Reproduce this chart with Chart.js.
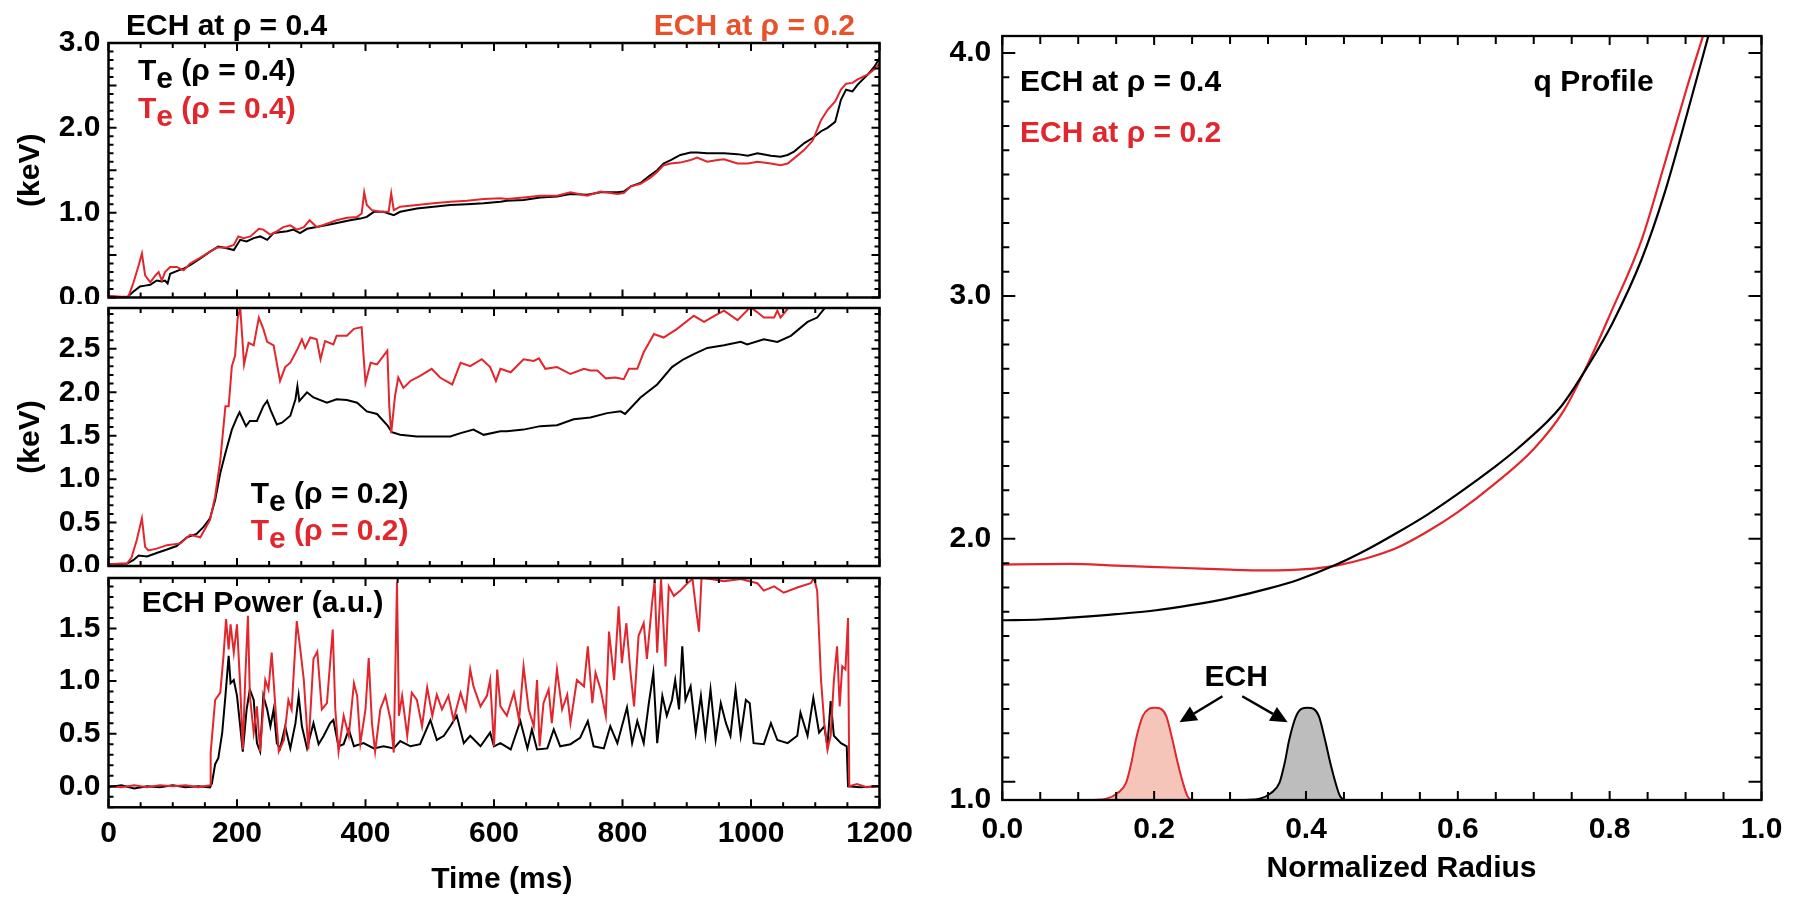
<!DOCTYPE html>
<html>
<head>
<meta charset="utf-8">
<title>ECH Te and q profile</title>
<script src="https://cdn.jsdelivr.net/npm/chart.js@4.4.1/dist/chart.umd.min.js"></script>
<style>
  body { margin: 0; background: #fff; }
  #wrap { position: relative; width: 1795px; height: 897px; overflow: hidden; }
  #wrap canvas { position: absolute; }
</style>
</head>
<body>
<div id="wrap">
  <canvas id="te04" width="930" height="304" style="left:0;top:0"></canvas>
  <canvas id="te02" width="930" height="268" style="left:0;top:304px"></canvas>
  <canvas id="pwr" width="930" height="325" style="left:0;top:572px"></canvas>
  <canvas id="qprof" width="895" height="897" style="left:900px;top:0"></canvas>
</div>
<script>
// ---- data ----
// panel 1: Te at rho = 0.4 (black: ECH at 0.4, red: ECH at 0.2)
var time04Black = [0,20,30,39,49,57,65,75,83,88,92,96,109,117,127,143,158,171,184,195,205,215,226,236,247,257,278,288,298,309,324,350,376,392,402,413,428,444,454,480,506,532,558,584,610,620,646,672,698,719,745,766,792,802,813,828,843,854,864,875,890,906,916,932,948,958,979,995,1010,1031,1046,1057,1067,1083,1096,1109,1119,1131,1140,1148,1158,1166,1182,1192,1200];
var te04Black = [0,0,0.01,0.07,0.13,0.14,0.15,0.2,0.19,0.2,0.165,0.28,0.32,0.34,0.38,0.46,0.54,0.6,0.58,0.56,0.68,0.66,0.7,0.72,0.68,0.76,0.78,0.8,0.76,0.81,0.83,0.87,0.91,0.93,0.95,1.01,1.01,0.97,1.01,1.05,1.07,1.09,1.1,1.11,1.13,1.14,1.15,1.18,1.19,1.22,1.21,1.24,1.24,1.25,1.31,1.35,1.44,1.5,1.58,1.62,1.68,1.71,1.71,1.7,1.7,1.7,1.69,1.67,1.7,1.67,1.66,1.68,1.72,1.82,1.88,1.96,2,2.07,2.33,2.45,2.43,2.51,2.63,2.72,2.82];
var time04Red = [0,20,31,39,47,52,57,65,73,78,83,88,96,106,117,127,143,158,169,184,195,202,210,221,234,241,252,262,272,283,293,304,313,324,340,355,371,387,394,398,402,410,423,436,440,444,454,480,506,532,558,584,610,620,646,672,698,719,745,766,792,802,813,828,843,854,864,875,890,906,916,932,948,958,979,995,1010,1031,1046,1057,1067,1083,1096,1109,1119,1131,1140,1148,1158,1166,1182,1192,1200];
var te04Red = [0.02,0.01,0.01,0.18,0.38,0.52,0.26,0.18,0.26,0.3,0.2,0.3,0.36,0.36,0.32,0.4,0.47,0.54,0.59,0.59,0.62,0.72,0.7,0.72,0.81,0.8,0.74,0.78,0.83,0.85,0.8,0.83,0.91,0.83,0.87,0.91,0.94,0.95,0.99,1.24,1.09,1.03,1.01,1.01,1.23,1.03,1.07,1.09,1.11,1.13,1.14,1.16,1.17,1.16,1.18,1.2,1.2,1.24,1.2,1.25,1.22,1.23,1.31,1.34,1.41,1.48,1.56,1.58,1.59,1.62,1.65,1.6,1.62,1.63,1.58,1.58,1.6,1.58,1.56,1.58,1.64,1.74,1.85,2.09,2.21,2.31,2.45,2.52,2.53,2.57,2.63,2.69,2.76];

// panel 2: Te at rho = 0.2
var time02Black = [0,29,39,47,60,75,91,106,122,137,148,158,166,174,182,192,200,204,214,220,231,241,247,252,262,270,283,291,294,297,309,319,340,355,371,387,402,418,434,441,454,480,506,532,548,568,584,610,620,646,672,698,724,750,776,797,804,828,854,877,895,911,932,958,984,994,1020,1041,1062,1088,1103,1116];
var te02Black = [0.02,0.03,0.07,0.12,0.11,0.15,0.19,0.23,0.33,0.37,0.45,0.55,0.76,1.07,1.3,1.57,1.71,1.77,1.61,1.67,1.67,1.84,1.9,1.8,1.63,1.65,1.73,1.92,2.07,1.9,2,1.94,1.88,1.92,1.91,1.88,1.78,1.75,1.62,1.54,1.51,1.49,1.49,1.49,1.53,1.57,1.51,1.55,1.55,1.57,1.61,1.62,1.69,1.71,1.76,1.78,1.75,1.94,2.09,2.29,2.38,2.44,2.51,2.54,2.58,2.55,2.61,2.58,2.65,2.81,2.86,2.98];
var time02Red = [0,29,36,44,52,57,62,75,91,112,127,143,158,166,174,182,187,192,197,201,205,211,218,226,234,241,247,257,267,275,283,293,301,306,314,324,330,337,350,355,371,382,394,397,400,408,418,434,437,440,446,451,459,470,485,503,516,535,548,563,581,594,603,610,626,646,662,670,680,698,719,740,750,761,774,789,802,810,823,833,849,864,885,911,927,943,958,979,999,1010,1020,1036,1041,1046,1057,1060];
var te02Red = [0.02,0.03,0.1,0.3,0.55,0.22,0.18,0.2,0.24,0.26,0.36,0.33,0.53,0.8,1.22,1.84,1.84,2.3,2.42,2.85,2.98,2.32,2.57,2.54,2.86,2.73,2.58,2.54,2.13,2.29,2.34,2.48,2.61,2.51,2.63,2.61,2.38,2.59,2.55,2.65,2.65,2.73,2.75,2.42,2.11,2.34,2.32,2.48,1.84,1.53,1.96,2.17,2.05,2.13,2.19,2.27,2.17,2.09,2.34,2.3,2.38,2.29,2.13,2.27,2.23,2.38,2.36,2.39,2.27,2.29,2.21,2.27,2.25,2.25,2.16,2.17,2.15,2.27,2.27,2.46,2.67,2.63,2.73,2.88,2.81,2.88,2.94,2.83,2.98,2.92,2.86,2.86,2.94,2.86,2.96,3.0];

// panel 3: ECH power (a.u.)
var timePwrBlack = [0,20,40,60,80,100,120,140,158,161,166,171,177,182,187,190,195,200,205,209,215,220,226,231,236,241,247,252,257,262,267,275,283,291,296,301,309,319,327,335,345,350,358,366,374,382,397,413,428,444,454,470,485,501,511,522,532,542,553,563,579,594,600,610,626,641,652,659,667,683,693,703,719,734,746,755,771,781,792,807,815,823,833,841,848,854,862,869,877,882,888,893,898,906,914,922,929,937,945,953,961,968,976,984,992,998,1004,1020,1031,1041,1057,1072,1077,1088,1097,1106,1114,1119,1124,1129,1140,1149,1151,1170,1200];
var pwrBlack = [-0.01,0.01,-0.02,0,-0.01,0.01,-0.01,0,-0.01,0.03,0.21,0.27,0.51,0.86,1.24,0.98,1.01,0.86,0.57,0.33,0.73,0.92,0.82,0.41,0.33,0.86,0.73,0.57,0.73,0.41,0.36,0.57,0.36,0.6,0.86,0.57,0.36,0.6,0.4,0.48,0.6,0.63,0.38,0.4,0.54,0.38,0.41,0.36,0.38,0.36,0.43,0.38,0.4,0.63,0.44,0.48,0.57,0.67,0.41,0.48,0.38,0.51,0.38,0.41,0.35,0.62,0.36,0.54,0.35,0.36,0.54,0.38,0.4,0.46,0.62,0.38,0.36,0.57,0.41,0.75,0.41,0.62,0.41,0.79,1.08,0.41,0.86,0.67,0.82,1.01,0.73,1.33,0.82,0.95,0.51,0.86,0.48,0.92,0.44,0.79,0.6,0.48,0.92,0.48,0.82,0.79,0.41,0.4,0.6,0.44,0.41,0.48,0.7,0.48,0.84,0.51,0.57,0.38,0.81,0.48,0.41,0.38,0,-0.01,0];
var timePwrRed = [0,20,40,60,80,100,120,140,158,159,166,174,179,183,187,190,195,200,205,209,213,217,220,226,231,236,244,249,254,260,265,273,280,285,293,298,304,311,319,325,332,340,349,353,358,366,374,382,387,392,400,405,410,415,423,431,439,444,449,452,457,465,472,480,488,496,504,511,519,529,537,548,556,563,568,579,589,594,600,605,610,620,631,639,646,654,662,667,671,677,685,690,698,706,714,719,729,740,746,753,758,766,774,779,787,794,799,806,812,818,825,833,838,846,850,854,860,867,872,880,890,901,909,914,919,923,937,958,984,1010,1020,1036,1051,1072,1093,1098,1103,1109,1114,1119,1124,1129,1134,1138,1142,1147,1151,1153,1165,1180,1200];
var pwrRed = [0,-0.01,0.01,-0.01,0.01,0,0.01,-0.01,0.01,0.32,0.82,0.89,1.24,1.59,1.3,1.54,1.27,1.54,0.95,0.35,1.05,1.62,0.86,0.51,0.76,0.33,1.01,0.92,1.27,0.73,0.33,0.44,0.82,0.73,1.57,1.33,1.01,0.35,1.21,1.28,0.73,0.79,1.49,0.73,0.33,0.67,0.48,0.98,0.86,0.41,0.73,1.22,0.6,0.33,0.73,0.86,0.63,0.32,1.94,0.67,0.86,0.48,0.89,0.82,0.57,0.94,0.67,0.87,0.73,0.86,0.63,0.89,0.73,1.11,0.95,0.76,0.86,1.01,0.38,1.11,0.76,0.67,0.89,0.63,1.14,0.73,0.57,1.01,0.38,0.79,0.92,0.6,1.11,0.73,0.87,0.6,1.01,0.95,1.33,0.79,1.08,0.92,0.67,1.47,1.01,1.71,1.17,1.55,1.11,0.76,1.43,1.55,1.21,1.74,1.95,1.27,1.97,1.14,1.9,1.81,1.86,1.93,1.97,1.71,1.47,1.98,1.97,1.95,1.97,1.93,1.86,1.9,1.84,1.89,1.93,1.98,1.86,1.01,0.6,0.35,0.48,1.01,1.33,0.76,1.14,1.11,1.6,0,0.02,-0.01,0];

// right panel: q profiles and ECH deposition shapes
var rhoQBlack = [0,0.05,0.1,0.15,0.2,0.25,0.3,0.35,0.39,0.44,0.48,0.52,0.56,0.6,0.646,0.68,0.736,0.774,0.804,0.842,0.872,0.902,0.93];
var qBlack = [1.665,1.668,1.678,1.69,1.705,1.728,1.757,1.795,1.832,1.894,1.955,2.025,2.1,2.185,2.29,2.375,2.545,2.725,2.89,3.15,3.42,3.75,4.07];
var rhoQRed = [0,0.05,0.09,0.15,0.24,0.3,0.346,0.4,0.44,0.48,0.52,0.56,0.6,0.646,0.7,0.74,0.778,0.8,0.842,0.872,0.902,0.923];
var qRed = [1.894,1.896,1.897,1.89,1.88,1.873,1.87,1.875,1.89,1.92,1.963,2.03,2.11,2.22,2.37,2.53,2.765,2.92,3.23,3.54,3.86,4.07];
var rhoEch02 = [0.12,0.137,0.152,0.163,0.17,0.176,0.185,0.193,0.201,0.209,0.216,0.224,0.231,0.238,0.244,0.25,0.26];
var ech02 = [0.925,0.93,0.954,0.995,1.078,1.174,1.27,1.3,1.305,1.3,1.27,1.174,1.078,0.995,0.94,0.925,0.925];
var rhoEch04 = [0.32,0.339,0.354,0.365,0.372,0.378,0.387,0.394,0.402,0.41,0.417,0.425,0.432,0.439,0.445,0.452,0.46];
var ech04 = [0.925,0.93,0.954,0.995,1.078,1.174,1.27,1.3,1.305,1.3,1.27,1.174,1.078,0.995,0.94,0.925,0.925];

// tick labels
var timeTicks = [0,200,400,600,800,1000,1200];
var keVTicksTop = [0,1,2,3];
var keVTicksMid = [0,0.5,1,1.5,2,2.5];
var pwrTicks = [0,0.5,1,1.5];
var rhoTicks = [0,0.2,0.4,0.6,0.8,1];
var qTicks = [0.925,2,3,4];   // bottom label printed as 1.0 in the figure

var RED = '#e1262d', ORANGE = '#e9502c', BLACK = '#000';
var FAMILY = '"Liberation Sans", Arial, Helvetica, sans-serif';

function pts(xs, ys) {
  return xs.map(function (x, i) { return {x: x, y: ys[i]}; });
}

// IDL style frame with inward ticks on all four sides
var idlBox = {
  id: 'idlBox',
  afterDatasetsDraw: function (chart, args, opts) {
    var ctx = chart.ctx, a = chart.chartArea;
    ctx.save();
    ctx.strokeStyle = BLACK;
    ctx.lineWidth = 2;
    function ticks(scale, spec, horiz) {
      var n0 = Math.ceil(scale.min / spec.minor - 1e-6), n1 = Math.floor(scale.max / spec.minor + 1e-6);
      for (var i = n0; i <= n1; i++) {
        var v = i * spec.minor;
        var r = v / spec.major;
        var len = Math.abs(r - Math.round(r)) < 1e-6 ? spec.majorLen : spec.minorLen;
        var p = scale.getPixelForValue(v);
        ctx.beginPath();
        if (horiz) {
          ctx.moveTo(p, a.bottom); ctx.lineTo(p, a.bottom - len);
          ctx.moveTo(p, a.top); ctx.lineTo(p, a.top + len);
        } else {
          ctx.moveTo(a.left, p); ctx.lineTo(a.left + len, p);
          ctx.moveTo(a.right, p); ctx.lineTo(a.right - len, p);
        }
        ctx.stroke();
      }
    }
    ticks(chart.scales.x, opts.x, true);
    ticks(chart.scales.y, opts.y, false);
    ctx.lineWidth = opts.frame || 2.5;
    ctx.strokeRect(a.left, a.top, a.right - a.left, a.bottom - a.top);
    ctx.restore();
  }
};

// free text (with subscripts) and arrows
var notes = {
  id: 'notes',
  afterDraw: function (chart, args, opts) {
    var ctx = chart.ctx, o = opts.origin || [0, 0];
    ctx.save();
    ctx.font = 'bold 30px ' + FAMILY;
    ctx.textBaseline = 'alphabetic';
    (opts.items || []).forEach(function (it) {
      var x, y;
      if (it.data) {
        x = chart.scales.x.getPixelForValue(it.x);
        y = chart.scales.y.getPixelForValue(it.y);
      } else {
        x = it.x - o[0]; y = it.y - o[1];
      }
      var segs = typeof it.text === 'string' ? [{t: it.text}] : it.text;
      var w = 0;
      segs.forEach(function (s) { w += ctx.measureText(s.t).width; });
      if (it.align === 'right') x -= w;
      if (it.align === 'center') x -= w / 2;
      ctx.fillStyle = it.color || BLACK;
      segs.forEach(function (s) {
        ctx.fillText(s.t, x, y + (s.sub ? 8 : 0));
        x += ctx.measureText(s.t).width;
      });
    });
    (opts.arrows || []).forEach(function (ar) {
      var sx = chart.scales.x, sy = chart.scales.y;
      var x0 = sx.getPixelForValue(ar.from[0]), y0 = sy.getPixelForValue(ar.from[1]);
      var x1 = sx.getPixelForValue(ar.to[0]), y1 = sy.getPixelForValue(ar.to[1]);
      var ang = Math.atan2(y1 - y0, x1 - x0), hl = 17, hw = 8;
      var bx = x1 - hl * Math.cos(ang), by = y1 - hl * Math.sin(ang);
      ctx.strokeStyle = BLACK; ctx.fillStyle = BLACK; ctx.lineWidth = 2.5;
      ctx.beginPath(); ctx.moveTo(x0, y0); ctx.lineTo(bx, by); ctx.stroke();
      ctx.beginPath();
      ctx.moveTo(x1, y1);
      ctx.lineTo(bx + hw * Math.sin(ang), by - hw * Math.cos(ang));
      ctx.lineTo(bx - hw * Math.sin(ang), by + hw * Math.cos(ang));
      ctx.closePath(); ctx.fill();
    });
    ctx.restore();
  }
};

Chart.register(idlBox, notes);

var tickFont = {family: FAMILY, size: 30, weight: 'bold'};

function lineSet(data, color, width) {
  return {data: data, borderColor: color, borderWidth: width || 2, pointRadius: 0, fill: false, tension: 0};
}

function yAxis(min, max, tickList, width, withTitle, pad) {
  return {
    type: 'linear', min: min, max: max,
    afterFit: function (s) { s.width = width; s.paddingTop = 0; s.paddingBottom = 0; },
    afterBuildTicks: function (s) { s.ticks = tickList.map(function (v) { return {value: v}; }); },
    ticks: {padding: pad || 8, color: BLACK, font: tickFont,
      callback: function (v) { return (v < 1 && v > 0.9 ? 1 : v).toFixed(1); }},
    grid: {display: false, drawTicks: false},
    border: {display: false},
    title: {display: !!withTitle, text: '(keV)', color: BLACK,
      font: {family: FAMILY, size: 30, weight: 'bold'}, padding: {top: 13, bottom: 0}}
  };
}

function xAxis(min, max, tickList, height, pad, fmt) {
  return {
    type: 'linear', min: min, max: max, position: 'bottom',
    afterFit: function (s) { s.height = height; s.paddingLeft = 0; s.paddingRight = 0; },
    afterBuildTicks: function (s) { s.ticks = tickList.map(function (v) { return {value: v}; }); },
    ticks: {padding: pad, color: BLACK, font: tickFont, maxRotation: 0, callback: fmt},
    grid: {display: false, drawTicks: false}, border: {display: false}
  };
}

function baseOptions(padding, scales, box, noteOpts) {
  return {
    responsive: false, animation: false, devicePixelRatio: 1,
    layout: {padding: padding},
    scales: scales,
    plugins: {legend: {display: false}, tooltip: {enabled: false}, idlBox: box, notes: noteOpts}
  };
}

var leftBox = {
  x: {major: 200, minor: 50, majorLen: 8, minorLen: 5},
  y: {major: 0.5, minor: 0.1, majorLen: 8, minorLen: 5}
};
var hiddenTime = {type: 'linear', min: 0, max: 1200, display: false};
var RIGHT_PAD = 930 - 879.5;

// panel 1
new Chart(document.getElementById('te04'), {
  type: 'line',
  data: {datasets: [lineSet(pts(time04Red, te04Red), RED), lineSet(pts(time04Black, te04Black), BLACK)]},
  options: baseOptions({left: 0, right: RIGHT_PAD, top: 43, bottom: 6.5},
    {x: hiddenTime, y: yAxis(0, 3, keVTicksTop, 108.5, true)},
    leftBox,
    {origin: [0, 0], items: [
      {x: 126, y: 35, text: 'ECH at \u03c1 = 0.4'},
      {x: 855, y: 35, text: 'ECH at \u03c1 = 0.2', color: ORANGE, align: 'right'},
      {x: 138, y: 80, text: [{t: 'T'}, {t: 'e', sub: true}, {t: ' (\u03c1 = 0.4)'}]},
      {x: 138, y: 118, color: RED, text: [{t: 'T'}, {t: 'e', sub: true}, {t: ' (\u03c1 = 0.4)'}]}
    ]})
});

// panel 2
new Chart(document.getElementById('te02'), {
  type: 'line',
  data: {datasets: [lineSet(pts(time02Red, te02Red), RED), lineSet(pts(time02Black, te02Black), BLACK)]},
  options: baseOptions({left: 0, right: RIGHT_PAD, top: 4, bottom: 6},
    {x: hiddenTime, y: yAxis(0, 2.97, keVTicksMid, 108.5, true)},
    leftBox,
    {origin: [0, 304], items: [
      {x: 250.7, y: 503, text: [{t: 'T'}, {t: 'e', sub: true}, {t: ' (\u03c1 = 0.2)'}]},
      {x: 250.7, y: 540, color: RED, text: [{t: 'T'}, {t: 'e', sub: true}, {t: ' (\u03c1 = 0.2)'}]}
    ]})
});

// panel 3
new Chart(document.getElementById('pwr'), {
  type: 'line',
  data: {datasets: [lineSet(pts(timePwrRed, pwrRed), RED), lineSet(pts(timePwrBlack, pwrBlack), BLACK)]},
  options: baseOptions({left: 0, right: RIGHT_PAD, top: 6, bottom: 0},
    {
      x: xAxis(0, 1200, timeTicks, 89.7, 8, function (v) { return String(v); }),
      y: yAxis(-0.2, 1.98, pwrTicks, 108.5, false)
    },
    leftBox,
    {origin: [0, 572], items: [
      {x: 141.7, y: 611.5, text: 'ECH Power (a.u.)'},
      {x: 501.8, y: 888, text: 'Time (ms)', align: 'center'}
    ]})
});

// right panel: q profile
function smooth(ds) { ds.cubicInterpolationMode = 'monotone'; return ds; }
var echBlack = smooth(lineSet(pts(rhoEch04, ech04), BLACK));
echBlack.fill = 'start'; echBlack.backgroundColor = '#bdbdbd';
var echRed = smooth(lineSet(pts(rhoEch02, ech02), RED));
echRed.fill = 'start'; echRed.backgroundColor = '#f6c5b9';

new Chart(document.getElementById('qprof'), {
  type: 'line',
  data: {datasets: [
    smooth(lineSet(pts(rhoQBlack, qBlack), BLACK, 2.2)),
    smooth(lineSet(pts(rhoQRed, qRed), RED, 2.2)),
    echBlack, echRed
  ]},
  options: baseOptions({left: 0, right: 33.5, top: 36, bottom: 0},
    {
      x: xAxis(0, 1, rhoTicks, 97, 12, function (v) { return v.toFixed(1); }),
      y: yAxis(0.925, 4.07, qTicks, 102.3, false, 11)
    },
    {x: {major: 0.2, minor: 0.05, majorLen: 9, minorLen: 8},
     y: {major: 1, minor: 0.1, majorLen: 13, minorLen: 7}, frame: 2.3},
    {origin: [900, 0], items: [
      {x: 1020, y: 91, text: 'ECH at \u03c1 = 0.4'},
      {x: 1020, y: 142, text: 'ECH at \u03c1 = 0.2', color: RED},
      {x: 1533.6, y: 91, text: 'q Profile'},
      {x: 1401.5, y: 877, text: 'Normalized Radius', align: 'center'},
      {data: true, x: 0.308, y: 1.393, text: 'ECH', align: 'center'}
    ],
    arrows: [
      {from: [0.29, 1.352], to: [0.2334, 1.245]},
      {from: [0.316, 1.352], to: [0.3759, 1.245]}
    ]})
});
</script>
</body>
</html>
